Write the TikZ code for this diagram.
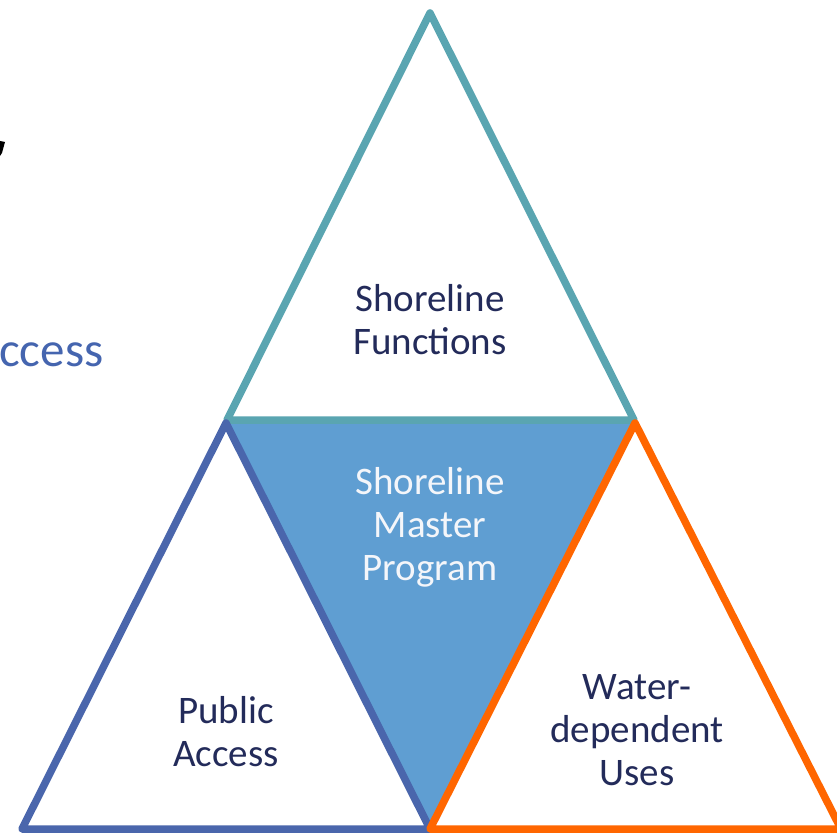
\documentclass[tikz,border=0pt]{standalone}
\usepackage{fontspec}
\setmainfont{Carlito}
\definecolor{tealc}{HTML}{5AA5B1}
\definecolor{bluec}{HTML}{4A66AC}
\definecolor{fillc}{HTML}{5F9ED2}
\definecolor{orangec}{HTML}{FF6600}
\definecolor{navy}{HTML}{232B5A}
\definecolor{lighttext}{HTML}{F4F6FA}
\definecolor{titleblue}{HTML}{4565AF}
\begin{document}
\begin{tikzpicture}[x=1pt,y=-1pt,
  tri/.style={line width=7.5pt, line join=round},
  lbl/.style={align=center, inner sep=0pt, anchor=base, font=\fontsize{39}{43}\selectfont, text=navy}]
\clip (0,0) rectangle (837,834);
\fill[white] (0,0) rectangle (837,834);
\coordinate (T) at (430,13);
\coordinate (L) at (227,420);
\coordinate (R) at (634,420);
\coordinate (LA) at (226,423);
\coordinate (RA) at (635,423);
\coordinate (BL) at (22,829);
\coordinate (BM) at (430,829);
\coordinate (BR) at (841,829);
\fill[fillc] (L) -- (R) -- (BM) -- cycle;
\draw[tri, draw=tealc] (T) -- (R) -- (L) -- cycle;
\draw[tri, draw=bluec] (LA) -- (BM) -- (BL) -- cycle;
\draw[tri, draw=orangec] (RA) -- (BR) -- (BM) -- cycle;
\node[lbl] (func) at (430,354) {Shoreline\\Functions};
\node[lbl, text=lighttext] (smp) at (430,580) {Shoreline\\Master\\Program};
\node[lbl] (pub) at (226,766) {Public\\Access};
\node[lbl] (wdu) at (637,785) {Water-\\dependent\\Uses};
\node[inner sep=0pt, anchor=base west, font=\fontsize{49}{55}\selectfont, text=titleblue] (acc) at (-1,366) {ccess};
\fill[black] (0,141) -- (5,142) -- (2,153) -- (0,156) -- cycle;
\end{tikzpicture}
\end{document}
